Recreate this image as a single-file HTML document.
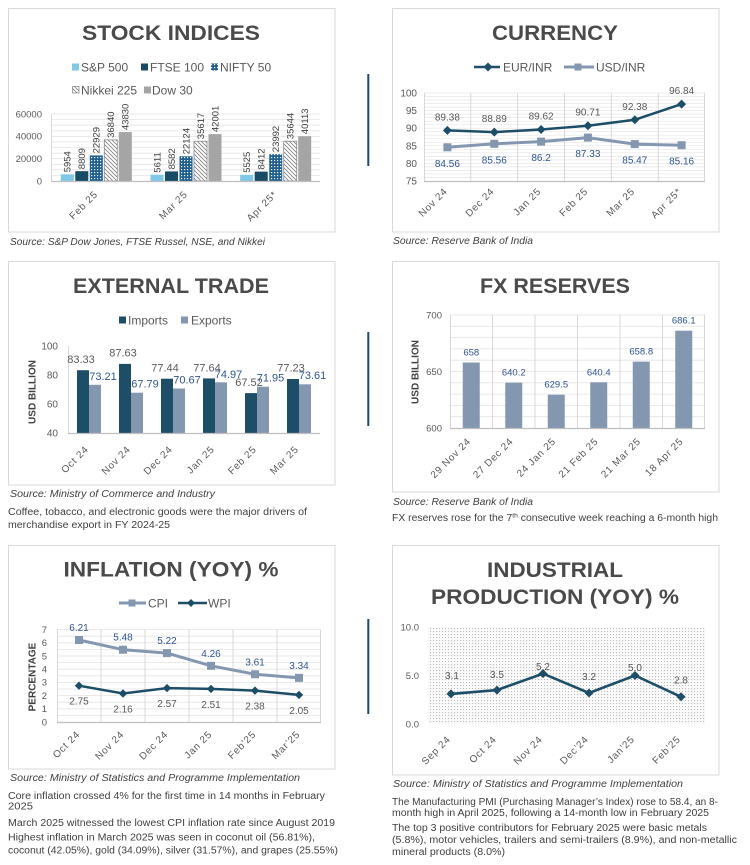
<!DOCTYPE html>
<html><head><meta charset="utf-8"><style>
html,body{margin:0;padding:0;background:#fff;}
svg{display:block;font-family:"Liberation Sans",Arial,sans-serif;}
.t{font-weight:bold;fill:#4a4a4a;font-size:21px;text-anchor:middle;}
.lg{font-size:12px;fill:#595959;}
.tk{font-size:9.5px;fill:#595959;text-anchor:end;}
.xl{font-size:10px;fill:#595959;text-anchor:end;letter-spacing:0.7px;}
.src{font-size:10px;fill:#404040;font-style:italic;}
.bd{font-size:10px;fill:#404040;}
.yt{font-size:10px;font-weight:bold;fill:#404040;text-anchor:middle;}
.vl{font-size:9.5px;fill:#404040;}
.g{fill:#595959;font-size:10px;text-anchor:middle;}
.b{fill:#2f5597;font-size:10px;text-anchor:middle;}
</style></head><body>
<svg width="750" height="865" viewBox="0 0 750 865" xmlns="http://www.w3.org/2000/svg">
<defs>
<pattern id="dots" width="3" height="3" patternUnits="userSpaceOnUse"><rect width="3" height="3" fill="#1f6094"/><rect x="1" y="1" width="1.2" height="1.2" fill="#fff"/></pattern>
<pattern id="hatch" width="4" height="4" patternUnits="userSpaceOnUse"><rect width="4" height="4" fill="#fff"/><path d="M-1 -1L5 5M3 -1L5 1M-1 3L1 5" stroke="#7f7f7f" stroke-width="0.8"/></pattern>
<pattern id="ipd" width="3" height="3" patternUnits="userSpaceOnUse"><rect width="3" height="3" fill="#fafafa"/><rect x="1" y="1" width="1.1" height="1.1" fill="#bdbdbd"/></pattern>
</defs>

<!-- divider lines -->
<path d="M368.3 74V166M368.3 332V426M368.3 619V714" stroke="#1d4e68" stroke-width="2"/>

<!-- ============ STOCK INDICES ============ -->
<rect x="8.5" y="8.5" width="326.5" height="223.5" fill="none" stroke="#d9d9d9"/>
<text class="t" x="171" y="40" textLength="178" lengthAdjust="spacingAndGlyphs">STOCK INDICES</text>
<rect x="72" y="63.5" width="7" height="7" fill="#7ec8e8"/><text class="lg" x="81" y="71.3">S&amp;P 500</text>
<rect x="141" y="63.5" width="7" height="7" fill="#174b66"/><text class="lg" x="150" y="71.3">FTSE 100</text>
<rect x="211" y="63.5" width="7" height="7" fill="url(#dots)"/><text class="lg" x="220" y="71.3">NIFTY 50</text>
<rect x="72.5" y="86.5" width="6.5" height="6.5" fill="url(#hatch)" stroke="#7f7f7f" stroke-width="0.7"/><text class="lg" x="81" y="94.3">Nikkei 225</text>
<rect x="144" y="86.5" width="7" height="7" fill="#a5a5a5"/><text class="lg" x="152" y="94.3">Dow 30</text>
<path d="M51 175.4H320M51 169.8H320M51 164.3H320M51 158.7H320M51 153.1H320M51 147.5H320M51 141.9H320M51 136.3H320M51 130.8H320M51 125.2H320M51 119.6H320M51 114H320" stroke="#e3e3e3" stroke-width="0.8"/>
<path d="M51.5 114V181" stroke="#d9d9d9"/>
<text class="tk" x="42" y="117.3">60000</text>
<text class="tk" x="42" y="139.6">40000</text>
<text class="tk" x="42" y="162">20000</text>
<text class="tk" x="42" y="184.3">0</text>
<!-- Feb -->
<rect x="60.8" y="174.35" width="13" height="6.65" fill="#7ec8e8"/>
<rect x="75.3" y="171.16" width="13" height="9.84" fill="#174b66"/>
<rect x="89.8" y="155.4" width="13" height="25.6" fill="url(#dots)"/>
<rect x="104.3" y="139.86" width="13" height="41.14" fill="url(#hatch)" stroke="#8a8a8a" stroke-width="0.8"/>
<rect x="118.8" y="132.06" width="13" height="48.94" fill="#a5a5a5"/>
<!-- Mar -->
<rect x="150.5" y="174.73" width="13" height="6.27" fill="#7ec8e8"/>
<rect x="165" y="171.42" width="13" height="9.58" fill="#174b66"/>
<rect x="179.5" y="156.29" width="13" height="24.71" fill="url(#dots)"/>
<rect x="194" y="141.23" width="13" height="39.77" fill="url(#hatch)" stroke="#8a8a8a" stroke-width="0.8"/>
<rect x="208.5" y="134.1" width="13" height="46.9" fill="#a5a5a5"/>
<!-- Apr -->
<rect x="240.2" y="174.83" width="13" height="6.17" fill="#7ec8e8"/>
<rect x="254.7" y="171.61" width="13" height="9.39" fill="#174b66"/>
<rect x="269.2" y="154.21" width="13" height="26.79" fill="url(#dots)"/>
<rect x="283.7" y="141.2" width="13" height="39.8" fill="url(#hatch)" stroke="#8a8a8a" stroke-width="0.8"/>
<rect x="298.2" y="136.21" width="13" height="44.79" fill="#a5a5a5"/>
<path d="M51 181.5H320" stroke="#bfbfbf" stroke-width="1.3"/>
<g class="vl">
<text transform="translate(70.7,172.3) rotate(-90)">5954</text>
<text transform="translate(85.2,169.2) rotate(-90)">8809</text>
<text transform="translate(99.7,153.4) rotate(-90)">22929</text>
<text transform="translate(114.2,137.9) rotate(-90)">36840</text>
<text transform="translate(128.7,130.1) rotate(-90)">43830</text>
<text transform="translate(160.4,172.7) rotate(-90)">5611</text>
<text transform="translate(174.9,169.4) rotate(-90)">8582</text>
<text transform="translate(189.4,154.3) rotate(-90)">22124</text>
<text transform="translate(203.9,139.2) rotate(-90)">35617</text>
<text transform="translate(218.4,132.1) rotate(-90)">42001</text>
<text transform="translate(250.1,172.8) rotate(-90)">5525</text>
<text transform="translate(264.6,169.6) rotate(-90)">8412</text>
<text transform="translate(279.1,152.2) rotate(-90)">23992</text>
<text transform="translate(293.6,139.2) rotate(-90)">35644</text>
<text transform="translate(308.1,134.2) rotate(-90)">40113</text>
</g>
<text class="xl" transform="translate(98.3,195) rotate(-45)">Feb 25</text>
<text class="xl" transform="translate(188,195) rotate(-45)">Mar 25</text>
<text class="xl" transform="translate(277.7,195) rotate(-45)">Apr 25*</text>
<text class="src" x="10" y="245" textLength="255" lengthAdjust="spacingAndGlyphs">Source: S&amp;P Dow Jones, FTSE Russel, NSE, and Nikkei</text>

<!-- ============ CURRENCY ============ -->
<rect x="392.5" y="8.5" width="326.5" height="223.5" fill="none" stroke="#d9d9d9"/>
<text class="t" x="555" y="40" textLength="126" lengthAdjust="spacingAndGlyphs">CURRENCY</text>
<path d="M474 67H500" stroke="#1d4e68" stroke-width="2.5"/>
<polygon points="488,62.5 492.5,67 488,71.5 483.5,67" fill="#1d4e68"/>
<text class="lg" x="503" y="71.3">EUR/INR</text>
<path d="M564 67H594" stroke="#8497b0" stroke-width="3"/>
<rect x="574.5" y="63.5" width="7" height="7" fill="#8497b0"/>
<text class="lg" x="596" y="71.3">USD/INR</text>
<path d="M424 177.5H705M424 174H705M424 170.4H705M424 166.9H705M424 163.4H705M424 159.9H705M424 156.4H705M424 152.8H705M424 149.3H705M424 145.8H705M424 142.3H705M424 138.8H705M424 135.2H705M424 131.7H705M424 128.2H705M424 124.7H705M424 121.2H705M424 117.6H705M424 114.1H705M424 110.6H705M424 107.1H705M424 103.6H705M424 100H705M424 96.5H705M424 93H705" stroke="#e6e6e6" stroke-width="0.7"/>
<path d="M424.5 93V181M470.8 93V181M517.7 93V181M564.5 93V181M611.3 93V181M658.2 93V181M704.5 93V181" stroke="#d0d0d0" stroke-width="0.8"/>
<path d="M424 181.5H705" stroke="#bfbfbf" stroke-width="1.3"/>
<g class="tk" style="font-size:10px">
<text x="417" y="96.5">100</text>
<text x="417" y="114.1">95</text>
<text x="417" y="131.7">90</text>
<text x="417" y="149.3">85</text>
<text x="417" y="166.9">80</text>
<text x="417" y="184.5">75</text>
</g>
<path d="M447.4 147.3L494.3 143.8L541.1 141.6L587.9 137.6L634.8 144.1L681.6 145.2" fill="none" stroke="#8497b0" stroke-width="3"/>
<g fill="#8497b0">
<rect x="443.4" y="143.3" width="8" height="8"/><rect x="490.3" y="139.8" width="8" height="8"/><rect x="537.1" y="137.6" width="8" height="8"/><rect x="583.9" y="133.6" width="8" height="8"/><rect x="630.8" y="140.1" width="8" height="8"/><rect x="677.6" y="141.2" width="8" height="8"/>
</g>
<path d="M447.4 130.4L494.3 132.1L541.1 129.5L587.9 125.7L634.8 119.8L681.6 104.1" fill="none" stroke="#1d4e68" stroke-width="2.5"/>
<g fill="#1d4e68">
<polygon points="447.4,125.9 451.9,130.4 447.4,134.9 442.9,130.4"/>
<polygon points="494.3,127.6 498.8,132.1 494.3,136.6 489.8,132.1"/>
<polygon points="541.1,125 545.6,129.5 541.1,134 536.6,129.5"/>
<polygon points="587.9,121.2 592.4,125.7 587.9,130.2 583.4,125.7"/>
<polygon points="634.8,115.3 639.3,119.8 634.8,124.3 630.3,119.8"/>
<polygon points="681.6,99.6 686.1,104.1 681.6,108.6 677.1,104.1"/>
</g>
<text class="g" x="447.4" y="120.4">89.38</text>
<text class="g" x="494.3" y="122.1">88.89</text>
<text class="g" x="541.1" y="119.5">89.62</text>
<text class="g" x="587.9" y="115.7">90.71</text>
<text class="g" x="634.8" y="109.8">92.38</text>
<text class="g" x="681.6" y="94.1">96.84</text>
<text class="b" x="447.4" y="166.8">84.56</text>
<text class="b" x="494.3" y="163.3">85.56</text>
<text class="b" x="541.1" y="161.1">86.2</text>
<text class="b" x="587.9" y="157.1">87.33</text>
<text class="b" x="634.8" y="163.6">85.47</text>
<text class="b" x="681.6" y="164.7">85.16</text>
<text class="xl" transform="translate(448,192) rotate(-45)">Nov 24</text>
<text class="xl" transform="translate(494.8,192) rotate(-45)">Dec 24</text>
<text class="xl" transform="translate(541.6,192) rotate(-45)">Jan 25</text>
<text class="xl" transform="translate(588.4,192) rotate(-45)">Feb 25</text>
<text class="xl" transform="translate(635.3,192) rotate(-45)">Mar 25</text>
<text class="xl" transform="translate(682.1,192) rotate(-45)">Apr 25*</text>
<text class="src" x="393" y="244" textLength="140" lengthAdjust="spacingAndGlyphs">Source: Reserve Bank of India</text>

<!-- ============ EXTERNAL TRADE ============ -->
<rect x="8.5" y="261.5" width="326.5" height="223.5" fill="none" stroke="#d9d9d9"/>
<text class="t" x="171" y="293" textLength="196" lengthAdjust="spacingAndGlyphs">EXTERNAL TRADE</text>
<rect x="119" y="316.5" width="7" height="7" fill="#1d4e68"/><text class="lg" x="128" y="324.3">Imports</text>
<rect x="181" y="316.5" width="7" height="7" fill="#8497b0"/><text class="lg" x="191" y="324.3">Exports</text>
<text class="yt" transform="translate(35.5,392) rotate(-90)">USD BILLION</text>
<g class="tk" style="font-size:10px">
<text x="58" y="349.5">100</text>
<text x="58" y="378.5">80</text>
<text x="58" y="407.5">60</text>
<text x="58" y="436.5">40</text>
</g>
<path d="M68.5 346V433" stroke="#d9d9d9"/>
<g fill="#1d4e68">
<rect x="77" y="370.2" width="12" height="62.8"/>
<rect x="119" y="363.9" width="12" height="69.1"/>
<rect x="161" y="378.7" width="12" height="54.3"/>
<rect x="203" y="378.4" width="12" height="54.6"/>
<rect x="245" y="393.1" width="12" height="39.9"/>
<rect x="287" y="379" width="12" height="54"/>
</g>
<g fill="#8497b0">
<rect x="89" y="384.8" width="12" height="48.2"/>
<rect x="131" y="392.7" width="12" height="40.3"/>
<rect x="173" y="388.5" width="12" height="44.5"/>
<rect x="215" y="382.3" width="12" height="50.7"/>
<rect x="257" y="386.7" width="12" height="46.3"/>
<rect x="299" y="384.3" width="12" height="48.7"/>
</g>
<path d="M68 433.5H320" stroke="#bfbfbf" stroke-width="1.3"/>
<g style="font-size:11px">
<text class="g" style="font-size:11px" x="81" y="363">83.33</text>
<text class="g" style="font-size:11px" x="123" y="356.5">87.63</text>
<text class="g" style="font-size:11px" x="165" y="371.5">77.44</text>
<text class="g" style="font-size:11px" x="207" y="371.5">77.64</text>
<text class="g" style="font-size:11px" x="249" y="386">67.52</text>
<text class="g" style="font-size:11px" x="291" y="371.5">77.23</text>
<text class="b" style="font-size:11px" x="103" y="380">73.21</text>
<text class="b" style="font-size:11px" x="145" y="387.5">67.79</text>
<text class="b" style="font-size:11px" x="187" y="383.5">70.67</text>
<text class="b" style="font-size:11px" x="228.5" y="378">74.97</text>
<text class="b" style="font-size:11px" x="270.5" y="381.5">71.95</text>
<text class="b" style="font-size:11px" x="312.5" y="379">73.61</text>
</g>
<text class="xl" transform="translate(89,450) rotate(-45)">Oct 24</text>
<text class="xl" transform="translate(131,450) rotate(-45)">Nov 24</text>
<text class="xl" transform="translate(173,450) rotate(-45)">Dec 24</text>
<text class="xl" transform="translate(215,450) rotate(-45)">Jan 25</text>
<text class="xl" transform="translate(257,450) rotate(-45)">Feb 25</text>
<text class="xl" transform="translate(299,450) rotate(-45)">Mar 25</text>
<text class="src" x="10" y="497" textLength="205" lengthAdjust="spacingAndGlyphs">Source: Ministry of Commerce and Industry</text>
<text class="bd" x="8" y="515" textLength="299" lengthAdjust="spacingAndGlyphs">Coffee, tobacco, and electronic goods were the major drivers of</text>
<text class="bd" x="8" y="528" textLength="162" lengthAdjust="spacingAndGlyphs">merchandise export in FY 2024-25</text>

<!-- ============ FX RESERVES ============ -->
<rect x="392.5" y="261.5" width="326.5" height="230.5" fill="none" stroke="#d9d9d9"/>
<text class="t" x="555" y="293" textLength="150" lengthAdjust="spacingAndGlyphs">FX RESERVES</text>
<text class="yt" transform="translate(418.5,372) rotate(-90)">USD BILLION</text>
<path d="M450 416.7H705M450 405.4H705M450 394.1H705M450 382.8H705M450 371.5H705M450 360.2H705M450 348.9H705M450 337.6H705M450 326.3H705M450 315H705" stroke="#e3e3e3" stroke-width="0.8"/>
<path d="M450.5 315V428M492.5 315V428M535 315V428M577.5 315V428M620 315V428M662.5 315V428M704.5 315V428" stroke="#d0d0d0" stroke-width="0.8"/>
<g class="tk">
<text x="442" y="318.3">700</text>
<text x="442" y="374.8">650</text>
<text x="442" y="431.3">600</text>
</g>
<g fill="#8497b0">
<rect x="462.75" y="362.5" width="17" height="65.5"/>
<rect x="505.25" y="382.6" width="17" height="45.4"/>
<rect x="547.75" y="394.7" width="17" height="33.3"/>
<rect x="590.25" y="382.3" width="17" height="45.7"/>
<rect x="632.75" y="361.6" width="17" height="66.4"/>
<rect x="675.25" y="330.7" width="17" height="97.3"/>
</g>
<path d="M450 428.5H705" stroke="#bfbfbf" stroke-width="1.3"/>
<g style="font-size:9.5px">
<text class="b" style="font-size:9.5px" x="471.25" y="355.5">658</text>
<text class="b" style="font-size:9.5px" x="513.75" y="375.6">640.2</text>
<text class="b" style="font-size:9.5px" x="556.25" y="387.7">629.5</text>
<text class="b" style="font-size:9.5px" x="598.75" y="375.3">640.4</text>
<text class="b" style="font-size:9.5px" x="641.25" y="354.6">658.8</text>
<text class="b" style="font-size:9.5px" x="683.75" y="323.7">686.1</text>
</g>
<text class="xl" transform="translate(471.25,442) rotate(-45)">29 Nov 24</text>
<text class="xl" transform="translate(513.75,442) rotate(-45)">27 Dec 24</text>
<text class="xl" transform="translate(556.25,442) rotate(-45)">24 Jan 25</text>
<text class="xl" transform="translate(598.75,442) rotate(-45)">21 Feb 25</text>
<text class="xl" transform="translate(641.25,442) rotate(-45)">21 Mar 25</text>
<text class="xl" transform="translate(683.75,442) rotate(-45)">18 Apr 25</text>
<text class="src" x="393" y="505" textLength="140" lengthAdjust="spacingAndGlyphs">Source: Reserve Bank of India</text>
<text class="bd" x="392" y="521" textLength="326" lengthAdjust="spacingAndGlyphs">FX reserves rose for the 7<tspan font-size="6.5" dy="-3.5">th</tspan><tspan dy="3.5"> consecutive week reaching a 6-month high</tspan></text>

<!-- ============ INFLATION ============ -->
<rect x="8.5" y="545.5" width="326.5" height="223.5" fill="none" stroke="#d9d9d9"/>
<text class="t" x="171" y="576.5" textLength="215" lengthAdjust="spacingAndGlyphs">INFLATION (YOY) %</text>
<path d="M119 603H146" stroke="#8497b0" stroke-width="3"/>
<rect x="128.5" y="599.5" width="7" height="7" fill="#8497b0"/>
<text class="lg" x="148" y="607.3">CPI</text>
<path d="M178 603H207" stroke="#1d4e68" stroke-width="2.5"/>
<polygon points="191,599 195,603 191,607 187,603" fill="#1d4e68"/>
<text class="lg" x="208" y="607.3">WPI</text>
<text class="yt" transform="translate(35.5,677) rotate(-90)">PERCENTAGE</text>
<path d="M57 715.4H321M57 708.8H321M57 702.2H321M57 695.6H321M57 689H321M57 682.4H321M57 675.8H321M57 669.2H321M57 662.6H321M57 656H321M57 649.4H321M57 642.8H321M57 636.2H321M57 629.6H321" stroke="#e3e3e3" stroke-width="0.8"/>
<path d="M57.5 629.6V722M101 629.6V722M145 629.6V722M189 629.6V722M233 629.6V722M277 629.6V722M320.5 629.6V722" stroke="#d0d0d0" stroke-width="0.8"/>
<path d="M57 722.5H321" stroke="#bfbfbf" stroke-width="1.3"/>
<g class="tk">
<text x="47" y="632.9">7</text>
<text x="47" y="646.1">6</text>
<text x="47" y="659.3">5</text>
<text x="47" y="672.5">4</text>
<text x="47" y="685.7">3</text>
<text x="47" y="698.9">2</text>
<text x="47" y="712.1">1</text>
<text x="47" y="725.3">0</text>
</g>
<path d="M79 640L123 649.7L167 653.1L211 665.8L255 674.3L299 677.9" fill="none" stroke="#8497b0" stroke-width="3"/>
<g fill="#8497b0">
<rect x="75" y="636" width="8" height="8"/><rect x="119" y="645.7" width="8" height="8"/><rect x="163" y="649.1" width="8" height="8"/><rect x="207" y="661.8" width="8" height="8"/><rect x="251" y="670.3" width="8" height="8"/><rect x="295" y="673.9" width="8" height="8"/>
</g>
<path d="M79 685.7L123 693.5L167 688.1L211 688.9L255 690.6L299 694.9" fill="none" stroke="#1d4e68" stroke-width="2.5"/>
<g fill="#1d4e68">
<polygon points="79,681.5 83.2,685.7 79,689.9 74.8,685.7"/>
<polygon points="123,689.3 127.2,693.5 123,697.7 118.8,693.5"/>
<polygon points="167,683.9 171.2,688.1 167,692.3 162.8,688.1"/>
<polygon points="211,684.7 215.2,688.9 211,693.1 206.8,688.9"/>
<polygon points="255,686.4 259.2,690.6 255,694.8 250.8,690.6"/>
<polygon points="299,690.7 303.2,694.9 299,699.1 294.8,694.9"/>
</g>
<text class="b" x="79" y="631">6.21</text>
<text class="b" x="123" y="640.7">5.48</text>
<text class="b" x="167" y="644.1">5.22</text>
<text class="b" x="211" y="656.8">4.26</text>
<text class="b" x="255" y="665.3">3.61</text>
<text class="b" x="299" y="668.9">3.34</text>
<text class="g" x="79" y="704.7">2.75</text>
<text class="g" x="123" y="712.5">2.16</text>
<text class="g" x="167" y="707.1">2.57</text>
<text class="g" x="211" y="707.9">2.51</text>
<text class="g" x="255" y="709.6">2.38</text>
<text class="g" x="299" y="713.9">2.05</text>
<text class="xl" transform="translate(80.5,735) rotate(-45)">Oct 24</text>
<text class="xl" transform="translate(124.5,735) rotate(-45)">Nov 24</text>
<text class="xl" transform="translate(168.5,735) rotate(-45)">Dec 24</text>
<text class="xl" transform="translate(212.5,735) rotate(-45)">Jan 25</text>
<text class="xl" transform="translate(256.5,735) rotate(-45)">Feb’25</text>
<text class="xl" transform="translate(300.5,735) rotate(-45)">Mar’25</text>
<text class="src" x="10" y="781" textLength="290" lengthAdjust="spacingAndGlyphs">Source: Ministry of Statistics and Programme Implementation</text>
<text class="bd" x="8" y="799" textLength="317" lengthAdjust="spacingAndGlyphs">Core inflation crossed 4% for the first time in 14 months in February</text>
<text class="bd" x="8" y="809.5" textLength="25" lengthAdjust="spacingAndGlyphs">2025</text>
<text class="bd" x="8" y="826" textLength="327" lengthAdjust="spacingAndGlyphs">March 2025 witnessed the lowest CPI inflation rate since August 2019</text>
<text class="bd" x="8" y="840.5" textLength="307" lengthAdjust="spacingAndGlyphs">Highest inflation in March 2025 was seen in coconut oil (56.81%),</text>
<text class="bd" x="8" y="853.5" textLength="330" lengthAdjust="spacingAndGlyphs">coconut (42.05%), gold (34.09%), silver (31.57%), and grapes (25.55%)</text>

<!-- ============ INDUSTRIAL PRODUCTION ============ -->
<rect x="392.5" y="545.5" width="326.5" height="229.5" fill="none" stroke="#d9d9d9"/>
<text class="t" x="555" y="577" textLength="136" lengthAdjust="spacingAndGlyphs">INDUSTRIAL</text>
<text class="t" x="555" y="604" textLength="248" lengthAdjust="spacingAndGlyphs">PRODUCTION (YOY) %</text>
<rect x="428" y="627" width="277" height="97" fill="url(#ipd)"/>
<g class="tk">
<text x="419" y="630.3">10.0</text>
<text x="419" y="678.8">5.0</text>
<text x="419" y="727.3">0.0</text>
</g>
<path d="M451 693.9L497 690.1L543 673.6L589 693L635 675.5L681 696.8" fill="none" stroke="#1d4e68" stroke-width="2.6"/>
<g fill="#1d4e68">
<polygon points="451,689.4 455.5,693.9 451,698.4 446.5,693.9"/>
<polygon points="497,685.6 501.5,690.1 497,694.6 492.5,690.1"/>
<polygon points="543,669.1 547.5,673.6 543,678.1 538.5,673.6"/>
<polygon points="589,688.5 593.5,693 589,697.5 584.5,693"/>
<polygon points="635,671 639.5,675.5 635,680 630.5,675.5"/>
<polygon points="681,692.3 685.5,696.8 681,701.3 676.5,696.8"/>
</g>
<text class="g" x="452" y="679.2">3.1</text>
<text class="g" x="497" y="677.8">3.5</text>
<text class="g" x="543" y="670.2">5.2</text>
<text class="g" x="589" y="680.2">3.2</text>
<text class="g" x="635" y="670.8">5.0</text>
<text class="g" x="681" y="683.5">2.8</text>
<text class="xl" transform="translate(451,740) rotate(-45)">Sep 24</text>
<text class="xl" transform="translate(497,740) rotate(-45)">Oct 24</text>
<text class="xl" transform="translate(543,740) rotate(-45)">Nov 24</text>
<text class="xl" transform="translate(589,740) rotate(-45)">Dec’24</text>
<text class="xl" transform="translate(635,740) rotate(-45)">Jan’25</text>
<text class="xl" transform="translate(681,740) rotate(-45)">Feb’25</text>
<text class="src" x="393" y="787" textLength="290" lengthAdjust="spacingAndGlyphs">Source: Ministry of Statistics and Programme Implementation</text>
<text class="bd" x="392" y="805" textLength="326" lengthAdjust="spacingAndGlyphs">The Manufacturing PMI (Purchasing Manager’s Index) rose to 58.4, an 8-</text>
<text class="bd" x="392" y="816" textLength="317" lengthAdjust="spacingAndGlyphs">month high in April 2025, following a 14-month low in February 2025</text>
<text class="bd" x="392" y="831" textLength="315" lengthAdjust="spacingAndGlyphs">The top 3 positive contributors for February 2025 were basic metals</text>
<text class="bd" x="392" y="843" textLength="345" lengthAdjust="spacingAndGlyphs">(5.8%), motor vehicles, trailers and semi-trailers (8.9%), and non-metallic</text>
<text class="bd" x="392" y="855" textLength="113" lengthAdjust="spacingAndGlyphs">mineral products (8.0%)</text>
</svg>
</body></html>
